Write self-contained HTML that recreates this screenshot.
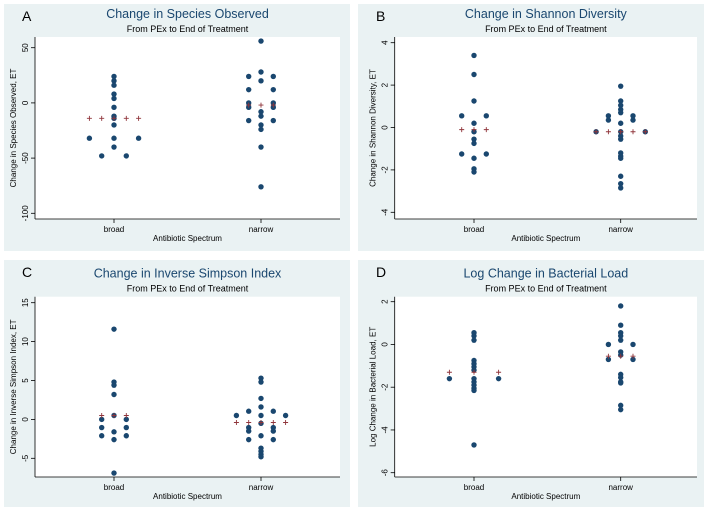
<!DOCTYPE html>
<html><head><meta charset="utf-8"><style>
body{margin:0;background:#fff;font-family:"Liberation Sans",sans-serif}
svg{display:block}
</style></head><body>
<svg id="c" width="708" height="513" xmlns="http://www.w3.org/2000/svg"></svg>
<script>
// Panel A data: [value, column offset index]
const aBroad=[[24,0],[20,0],[16,0],[8,0],[4,0],[-4,0],[-12,0],[-14,0],[-20,0],[-32,0],[-40,0],[-48,-1],[-48,1],[-32,-2],[-32,2]];
const aNarrow=[[56,0],[28,0],[20,0],[-8,0],[-12,0],[-20,0],[-24,0],[-40,0],[-76,0],[24,-1],[24,1],[12,-1],[12,1],[0,-1],[0,1],[-4,-1],[-4,1],[-16,-1],[-16,1]];
const aMeanBroad=[[-14,-2],[-14,-1],[-14,0],[-14,1],[-14,2]];
const aMeanNarrow=[[-2,-1],[-2,0],[-2,1]];
const aTicks=[50,0,-50,-100];
// Panel B
const bBroad=[[3.4,0],[2.5,0],[1.25,0],[0.2,0],[-0.2,0],[-0.55,0],[-0.75,0],[-1.45,0],[-1.95,0],[-2.1,0],[0.55,-1],[0.55,1],[-1.25,-1],[-1.25,1]];
const bNarrow=[[1.95,0],[1.25,0],[1.05,0],[0.85,0],[0.7,0],[0.2,0],[-0.2,0],[-0.4,0],[-0.55,0],[-1.2,0],[-1.35,0],[-1.45,0],[-2.3,0],[-2.65,0],[-2.85,0],[0.55,-1],[0.55,1],[0.35,-1],[0.35,1],[-0.2,-2],[-0.2,2]];
const bMeanBroad=[[-0.1,-1],[-0.1,0],[-0.1,1]];
const bMeanNarrow=[[-0.2,-2],[-0.2,-1],[-0.2,0],[-0.2,1],[-0.2,2]];
const bTicks=[4,2,0,-2,-4];
// Panel C
const cBroad=[[11.6,0],[4.8,0],[4.4,0],[3.2,0],[0.5,0],[-1.6,0],[-2.6,0],[-6.9,0],[0,-1],[0,1],[-1.05,-1],[-1.05,1],[-2.1,-1],[-2.1,1]];
const cNarrow=[[5.3,0],[4.8,0],[2.7,0],[1.6,0],[0.5,0],[-0.5,0],[-2.1,0],[-3.7,0],[-4.1,0],[-4.5,0],[-4.8,0],[1.05,-1],[1.05,1],[-1.05,-1],[-1.05,1],[-1.5,-1],[-1.5,1],[-2.6,-1],[-2.6,1],[0.5,-2],[0.5,2]];
const cMeanBroad=[[0.5,-1],[0.5,0],[0.5,1]];
const cMeanNarrow=[[-0.4,-2],[-0.4,-1],[-0.4,0],[-0.4,1],[-0.4,2]];
const cTicks=[15,10,5,0,-5];
// Panel D
const dBroad=[[0.55,0],[0.4,0],[0.2,0],[-0.75,0],[-0.9,0],[-1.05,0],[-1.2,0],[-1.6,0],[-1.75,0],[-1.9,0],[-2.05,0],[-2.15,0],[-4.7,0],[-1.6,-2],[-1.6,2]];
const dNarrow=[[1.8,0],[0.9,0],[0.55,0],[0.4,0],[0.2,0],[-0.35,0],[-0.5,0],[-1.4,0],[-1.55,0],[-1.75,0],[-1.8,0],[-2.85,0],[-3.05,0],[0,-1],[0,1],[-0.7,-1],[-0.7,1]];
const dMeanBroad=[[-1.3,-2],[-1.3,0],[-1.3,2]];
const dMeanNarrow=[[-0.55,-1],[-0.55,0],[-0.55,1]];
const dTicks=[2,0,-2,-4,-6];
const categories=["broad","narrow"];

const NS="http://www.w3.org/2000/svg";
const svg=document.getElementById('c');
function mk(t,a,p){const e=document.createElementNS(NS,t);for(const k in a)e.setAttribute(k,a[k]);(p||svg).appendChild(e);return e;}

const panels=[
 {id:'a',letter:'A',title:'Change in Species Observed',ytitle:'Change in Species Observed, ET',ox:0,oy:0,pl:35,pr:340,pt:37,pb:219,yv1:50,yp1:47.7,yv2:-100,yp2:213.3,cx:[114,261],off:12.3,ticks:aTicks,series:[aBroad,aNarrow],means:[aMeanBroad,aMeanNarrow]},
 {id:'b',letter:'B',title:'Change in Shannon Diversity',ytitle:'Change in Shannon Diversity, ET',ox:354,oy:0,pl:40.7,pr:343,pt:37,pb:219,yv1:4,yp1:42.7,yv2:-4,yp2:212.3,cx:[120,266.7],off:12.3,ticks:bTicks,series:[bBroad,bNarrow],means:[bMeanBroad,bMeanNarrow]},
 {id:'c',letter:'C',title:'Change in Inverse Simpson Index',ytitle:'Change in Inverse Simpson Index, ET',ox:0,oy:256,pl:35,pr:340,pt:40.7,pb:221,yv1:15,yp1:46.7,yv2:-5,yp2:202.3,cx:[114,261],off:12.3,ticks:cTicks,series:[cBroad,cNarrow],means:[cMeanBroad,cMeanNarrow]},
 {id:'d',letter:'D',title:'Log Change in Bacterial Load',ytitle:'Log Change in Bacterial Load, ET',ox:354,oy:256,pl:40.7,pr:343,pt:40.7,pb:221,yv1:2,yp1:45.7,yv2:-6,yp2:216.7,cx:[120,266.7],off:12.3,ticks:dTicks,series:[dBroad,dNarrow],means:[dMeanBroad,dMeanNarrow]}
];

panels.forEach(p=>{
 const g=mk('g',{transform:`translate(${p.ox},${p.oy})`});
 
 
 const bg=mk('rect',{x:4,y:4,width:346,height:247,fill:'#eaf2f3'},g);
 
 
 const pa=mk('rect',{x:p.pl,y:p.pt,width:p.pr-p.pl,height:p.pb-p.pt,fill:'#fff'},g);
 
 
 const y=v=>p.yp1+(v-p.yv1)*(p.yp2-p.yp1)/(p.yv2-p.yv1);
 const x=(ci,o)=>p.cx[ci]+o*p.off;
 const ax=mk('line',{x1:p.pl,y1:p.pt,x2:p.pl,y2:p.pb,stroke:'#000','stroke-width':0.8},g);
 
 
 const bx=mk('line',{x1:p.pl,y1:p.pb,x2:p.pr,y2:p.pb,stroke:'#000','stroke-width':0.8},g);
 
 
 p.ticks.forEach(t=>{
  mk('line',{x1:p.pl-4,x2:p.pl,y1:y(t),y2:y(t),stroke:'#000','stroke-width':0.8},g);
  const tx=mk('text',{x:p.pl-7,y:y(t),'font-size':8,'text-anchor':'middle',fill:'#000',transform:`rotate(-90 ${p.pl-7} ${y(t)})`},g);
  tx.textContent=t;
  
  
 });
 categories.forEach((c,i)=>{
  mk('line',{x1:x(i,0),x2:x(i,0),y1:p.pb,y2:p.pb+4,stroke:'#000','stroke-width':0.8},g);
  const t=mk('text',{x:x(i,0),y:p.pb+13,'font-size':8,'text-anchor':'middle',fill:'#000'},g);
  t.textContent=c;
  
  
 });
 const xt=mk('text',{x:(p.pl+p.pr)/2,y:p.pb+22,'font-size':8,'text-anchor':'middle',fill:'#000'},g);
 xt.textContent='Antibiotic Spectrum';
 
 
 const ym=(p.pt+p.pb)/2, yx=p.pl-19;
 const yt=mk('text',{x:yx,y:ym,'font-size':8,'text-anchor':'middle',fill:'#000',transform:`rotate(-90 ${yx} ${ym})`},g);
 yt.textContent=p.ytitle;
 
 
 const ti=mk('text',{x:(p.pl+p.pr)/2,y:p.pt-19,'font-size':12.5,'text-anchor':'middle',fill:'#1a476f'},g);
 ti.textContent=p.title;
 
 
 const st=mk('text',{x:(p.pl+p.pr)/2,y:p.pt-5,'font-size':9,'text-anchor':'middle',fill:'#000'},g);
 st.textContent='From PEx to End of Treatment';
 
 
 const lt=mk('text',{x:22,y:21,'font-size':14,fill:'#000'},g);
 lt.textContent=p.letter;
 
 
 p.series.forEach((s,i)=>s.forEach(d=>{
  const c=mk('circle',{cx:x(i,d[1]),cy:y(d[0]),r:2.7,fill:'#1a476f'},g);
  
  
 }));
 p.means.forEach((s,i)=>s.forEach(d=>{
  const cx=x(i,d[1]),cy=y(d[0]);
  const m=mk('path',{d:`M${cx-2.5} ${cy}H${cx+2.5}M${cx} ${cy-2.5}V${cy+2.5}`,stroke:'#90353b','stroke-width':0.9},g);
  
  
 }));
});
</script>
</body></html>
